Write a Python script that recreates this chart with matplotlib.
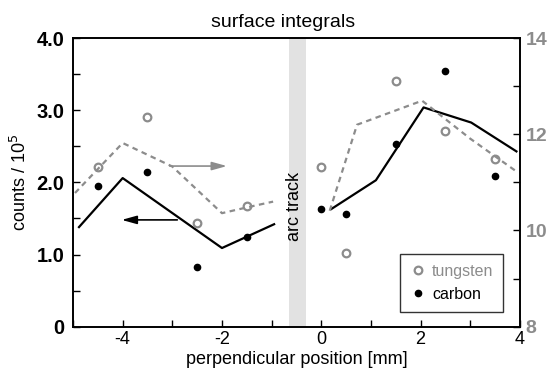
import matplotlib
matplotlib.use("Agg")
import matplotlib.pyplot as plt
from matplotlib.ticker import MultipleLocator, FixedLocator

plt.rcParams["font.family"] = ["Liberation Sans", "DejaVu Sans"]

# measured points
x_pts = [-4.5, -3.5, -2.5, -1.5, 0, 0.5, 1.5, 2.5, 3.5]
carbon_pts = [1.95, 2.15, 0.82, 1.24, 1.63, 1.56, 2.53, 3.55, 2.09]
tungsten_pts = [11.33, 12.37, 10.16, 10.50, 11.33, 9.53, 13.10, 12.07, 11.49]

# smoothed curves, two pieces each side of the arc track
carbon_x1 = [-4.88, -4.0, -2.0, -0.95]
carbon_y1 = [1.38, 2.06, 1.09, 1.42]
carbon_x2 = [0.2, 1.1, 2.06, 3.02, 3.93]
carbon_y2 = [1.63, 2.03, 3.04, 2.83, 2.43]

tungsten_x1 = [-4.96, -4.0, -3.0, -2.0, -1.5, -0.97]
tungsten_y1 = [10.78, 11.82, 11.33, 10.36, 10.48, 10.60]
tungsten_x2 = [0.17, 0.72, 2.03, 3.0, 3.9]
tungsten_y2 = [10.41, 12.20, 12.70, 11.91, 11.25]

arc_track = (-0.65, -0.31)

gris = "#8c8c8c"

fig = plt.figure(figsize=(5.49, 3.82), dpi=100)
ax = fig.add_axes([0.133, 0.145, 0.814, 0.755])
ax2 = ax.twinx()

ax.axvspan(arc_track[0], arc_track[1], color="#e2e2e2", lw=0, zorder=0)
ax.text(-0.53, 1.67, "arc track", rotation=90, ha="center",
        va="center", fontsize=13)

ax.plot(carbon_x1, carbon_y1, color="black", lw=1.6)
ax.plot(carbon_x2, carbon_y2, color="black", lw=1.6)
carb, = ax.plot(x_pts, carbon_pts, "o", color="black", ms=4.5, label="carbon")

ax2.plot(tungsten_x1, tungsten_y1, color=gris, lw=1.6, dashes=(2.5, 2))
ax2.plot(tungsten_x2, tungsten_y2, color=gris, lw=1.6, dashes=(2.5, 2))
tung, = ax2.plot(x_pts, tungsten_pts, "o", mfc="none", mec=gris, mew=1.6,
                 ms=5.5, label="tungsten")

ax2.annotate("", xy=(-1.9, 11.34), xytext=(-3.05, 11.34),
             arrowprops=dict(arrowstyle="-|>,head_width=0.25,head_length=0.9",
                             color=gris, lw=1.2, shrinkA=0, shrinkB=0))
ax.annotate("", xy=(-4.02, 1.48), xytext=(-2.9, 1.48),
            arrowprops=dict(arrowstyle="-|>,head_width=0.25,head_length=0.9",
                            color="black", lw=1.2, shrinkA=0, shrinkB=0))

ax.set_xlim(-5, 4)
ax.set_ylim(0, 4)
ax2.set_ylim(8, 14)

ax.xaxis.set_major_locator(FixedLocator([-4, -2, 0, 2, 4]))
ax.xaxis.set_minor_locator(MultipleLocator(1))
ax.yaxis.set_major_locator(FixedLocator([0, 1, 2, 3, 4]))
ax.yaxis.set_minor_locator(MultipleLocator(0.5))
ax.set_yticklabels(["0", "1.0", "2.0", "3.0", "4.0"], fontweight="bold", fontsize=14.5)
ax.set_xticklabels(["-4", "-2", "0", "2", "4"], fontsize=13)
ax.tick_params(axis="both", which="both", direction="in", length=5, width=1)
ax.tick_params(axis="y", pad=6)

ax2.yaxis.set_major_locator(FixedLocator([8, 10, 12, 14]))
ax2.yaxis.set_minor_locator(MultipleLocator(1))
ax2.set_yticklabels(["8", "10", "12", "14"], fontweight="bold", fontsize=14, color=gris)
ax2.tick_params(axis="y", which="both", direction="in", length=5, width=1, pad=4)

for a in (ax, ax2):
    for s in a.spines.values():
        s.set_linewidth(1.2)

ax.set_xlabel("perpendicular position [mm]", fontsize=13, labelpad=2)
ax.set_ylabel("counts / 10$^5$", fontsize=13, labelpad=5)
ax.set_title("surface integrals", fontsize=14, pad=8, x=0.47)

leg = ax2.legend([tung, carb], ["tungsten", "carbon"], loc="lower right",
                 fontsize=11.5, fancybox=False, edgecolor="black",
                 handletextpad=0.4, handlelength=1.0, borderpad=0.6,
                 borderaxespad=0, bbox_to_anchor=(0.962, 0.052))
leg.get_frame().set_linewidth(1.0)
leg.get_texts()[0].set_color(gris)

fig.savefig("out.png", dpi=100)
